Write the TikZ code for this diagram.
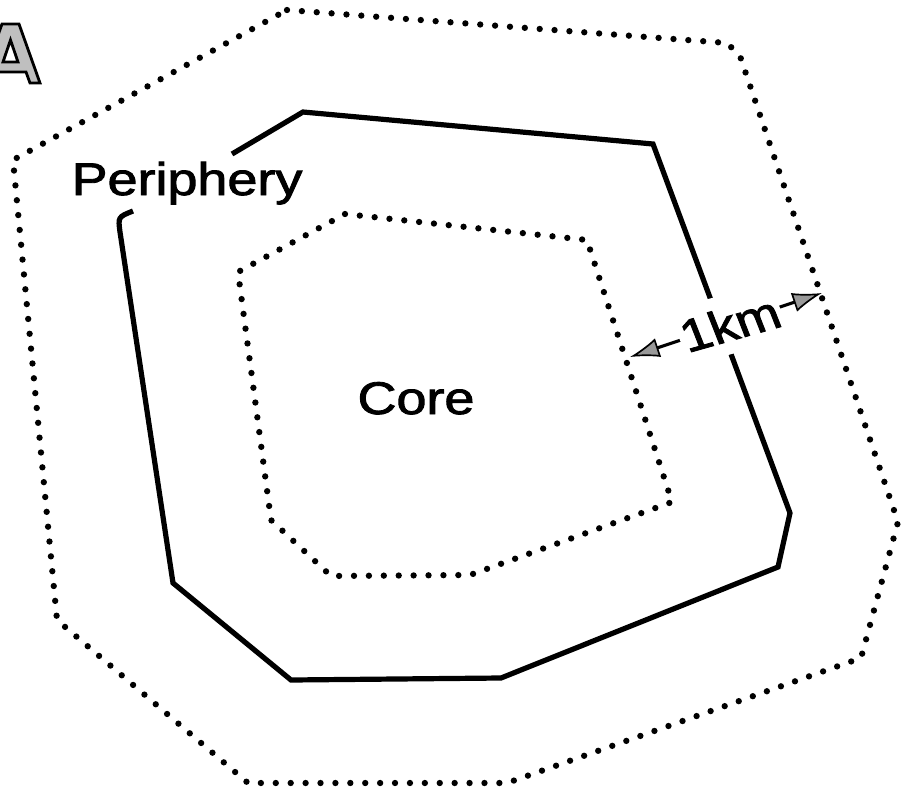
\documentclass[tikz,border=0pt]{standalone}
\usepackage{fontspec}
\setmainfont{Liberation Sans}
\newfontfamily\labfont{Liberation Sans}[FakeBold=1.8]
\usetikzlibrary{arrows.meta}

\tikzset{
  dotline/.style={line width=4.5pt, line cap=round, dash pattern=on 0pt off 10.6pt},
  boundary/.style={line width=3.7pt, line join=miter},
  lab/.style={font=\labfont\fontsize{32.5}{36}\selectfont, xscale=1.18, inner sep=0pt},
  kmlab/.style={lab, fill=white, inner xsep=1.5pt, inner ysep=9pt, rotate=18.4},
  panelletter/.style={fill=black!25, draw=black, line width=2pt, line join=miter, even odd rule}
}

\begin{document}
\begin{tikzpicture}[x=0.025cm, y=-0.025cm]
\useasboundingbox (0,0) rectangle (903,791);

% panel letter
\path[panelletter] (2,24) -- (19,24) -- (40,83) -- (30,83) -- (26,72) -- (-4,72)
  -- (-8,83) -- (-19,83) -- cycle
  (3,62) -- (18,62) -- (10.5,40) -- cycle;

% outer 1 km band
\draw[dotline] (287,10) -- (727,43) -- (740,56) -- (898,522) -- (861,658)
  -- (507,783) -- (248,783) -- (57,620) -- (13,160) -- cycle;

% periphery boundary
\draw[boundary] (232,154) -- (303,112) -- (653,144) -- (790,513) -- (778,567)
  -- (501,678) -- (291,680) -- (173,583) -- (120,232)
  .. controls (118,217) .. (133,211);

% core boundary
\draw[dotline] (345,214) -- (587,240) -- (672,502) -- (470,575) -- (331,576)
  -- (271,520) -- (238,272) -- cycle;

% labels
\node[lab, anchor=base] (per) at (187,195) {Periphery};
\node[lab, anchor=base] (core) at (416,414) {Core};

% distance marker
\coordinate (kmL) at (630,357);
\coordinate (kmR) at (822,293);
\draw[line width=2.2pt, arrows={Latex[length=21pt, width=14pt, fill=black!40, line width=1.2pt]-Latex[length=21pt, width=14pt, fill=black!40, line width=1.2pt]}]
  (kmL) -- node[kmlab, pos=0.52] (km) {1km} (kmR);
\end{tikzpicture}
\end{document}
